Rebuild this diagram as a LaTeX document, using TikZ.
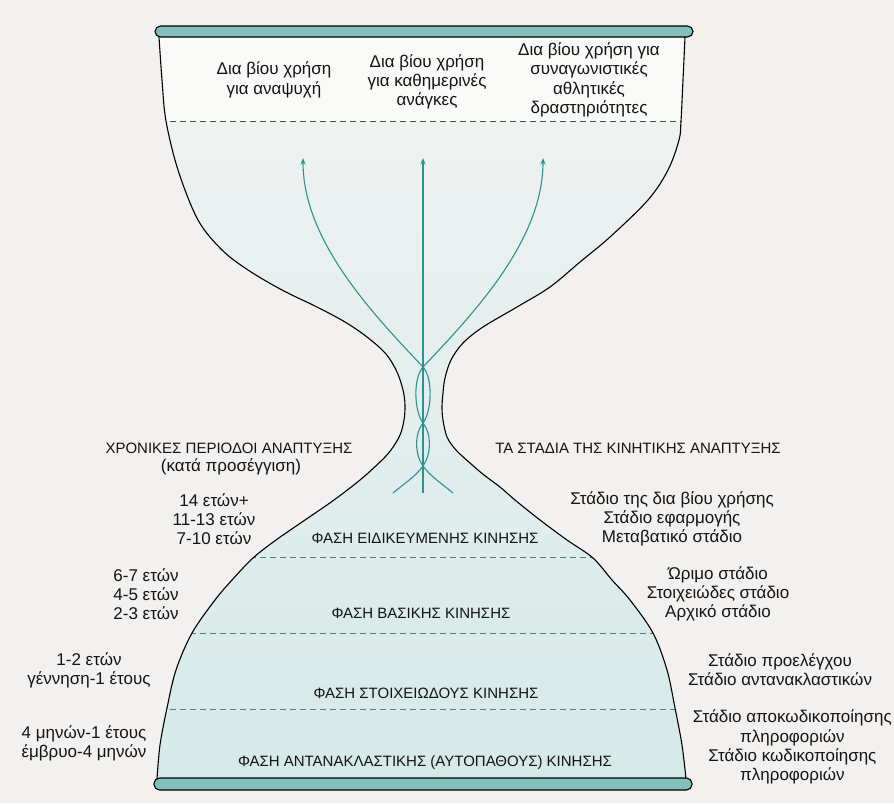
\documentclass[tikz,border=0pt]{standalone}
\usepackage{fontspec}
\setmainfont{Liberation Sans}
\usetikzlibrary{arrows.meta}
\definecolor{pagebg}{HTML}{F2F1EF}
\definecolor{ink}{HTML}{141414}
\definecolor{barteal}{HTML}{82C0BC}
\definecolor{arrowteal}{HTML}{2B9490}
\definecolor{dashteal}{HTML}{4E7F7D}
\definecolor{topwhite}{HTML}{F9F9F7}
\definecolor{bulbtop}{HTML}{EEF2F1}
\definecolor{bulbmid}{HTML}{E3EEED}
\definecolor{bulbbot}{HTML}{D4E9E8}
\begin{document}
\begin{tikzpicture}[x=1pt,y=-1pt,
  txt/.style={align=center, inner sep=0pt, text=ink, font=\fontsize{17}{19.3}\selectfont},
  caps/.style={align=center, inner sep=0pt, text=ink, font=\fontsize{15}{19}\selectfont},
  wall/.style={draw=black, line width=1.1pt},
  barbox/.style={draw=black, line width=1.1pt, fill=barteal, rounded corners=5.5pt, inner sep=0pt},
  topdash/.style={draw=gray!60!black, line width=0.8pt, dash pattern=on 6pt off 4pt},
  lowdash/.style={draw=dashteal, line width=0.8pt, dash pattern=on 6pt off 4pt},
  strand/.style={draw=arrowteal, line width=1.1pt},
  tip/.style={-{Stealth[length=6.5pt,width=5pt]}}
]
\useasboundingbox (0,0) rectangle (894,803);
\fill[pagebg] (0,0) rectangle (894,803);

% interior fill and dashed separators
\begin{scope}
\clip plot[smooth,tension=0.55] coordinates {(159,37) (162,80) (166,121) (178,170) (198,220) (222,250) (248,270) (282,290) (317,307) (345,322) (367,337) (386,354) (397,372) (403,390) (405,405) (404,420) (400,435) (391,450) (380,462) (360,480) (334,500) (305,520) (276,540) (253,558) (232,580) (215,600) (192,633) (176,670) (167,708) (160,745) (157,779)}
 -- plot[smooth,tension=0.55] coordinates {(686,779) (682,745) (675,708) (667,670) (653,633) (630,600) (612,580) (593,558) (567,540) (540,520) (515,500) (500,487) (484,475) (470,463) (456,450) (447,437) (443,420) (442,407) (443,393) (445,378) (451,360) (463,343) (483,327) (517,307) (550,287) (580,262) (610,237) (648,200) (668,170) (679,140) (681,121) (683,80) (685,37)} -- cycle;
\fill[topwhite] (0,20) rectangle (894,121);
\shade[top color=bulbtop, bottom color=bulbmid] (0,121) rectangle (894,420);
\shade[top color=bulbmid, bottom color=bulbbot] (0,420) rectangle (894,795);
\coordinate (d0l) at (100,121); \coordinate (d0r) at (800,121);
\coordinate (d1l) at (100,557); \coordinate (d1r) at (800,557);
\coordinate (d2l) at (100,633); \coordinate (d2r) at (800,633);
\coordinate (d3l) at (100,709); \coordinate (d3r) at (800,709);
\draw[topdash] (d0l) -- (d0r);
\draw[lowdash] (d1l) -- (d1r);
\draw[lowdash] (d2l) -- (d2r);
\draw[lowdash] (d3l) -- (d3r);
\end{scope}

% walls
\draw[wall] plot[smooth,tension=0.55] coordinates {(159,37) (162,80) (166,121) (178,170) (198,220) (222,250) (248,270) (282,290) (317,307) (345,322) (367,337) (386,354) (397,372) (403,390) (405,405) (404,420) (400,435) (391,450) (380,462) (360,480) (334,500) (305,520) (276,540) (253,558) (232,580) (215,600) (192,633) (176,670) (167,708) (160,745) (157,779)};
\draw[wall] plot[smooth,tension=0.55] coordinates {(686,779) (682,745) (675,708) (667,670) (653,633) (630,600) (612,580) (593,558) (567,540) (540,520) (515,500) (500,487) (484,475) (470,463) (456,450) (447,437) (443,420) (442,407) (443,393) (445,378) (451,360) (463,343) (483,327) (517,307) (550,287) (580,262) (610,237) (648,200) (668,170) (679,140) (681,121) (683,80) (685,37)};

% bars
\node[barbox, minimum width=538pt, minimum height=11pt] (topbar) at (424,31.5) {};
\node[barbox, minimum width=538pt, minimum height=12pt] (botbar) at (423,784) {};

% strands and arrows
\coordinate (sL) at (393,493); \coordinate (sC) at (423,493); \coordinate (sR) at (453,493);
\coordinate (x1) at (423,466); \coordinate (x2) at (423,423); \coordinate (x3) at (423,367);
\coordinate (tL) at (303,158); \coordinate (tC) at (423,158); \coordinate (tR) at (543,158);
\draw[strand,tip] (sL) .. controls (405,483) and (416,476) .. (x1)
  .. controls (431,455) and (432,434) .. (x2)
  .. controls (414,411) and (413,378) .. (x3)
  .. controls (475,312) and (543,240) .. (tR);
\draw[strand,tip] (sR) .. controls (441,483) and (430,476) .. (x1)
  .. controls (415,455) and (414,434) .. (x2)
  .. controls (432,411) and (433,378) .. (x3)
  .. controls (371,312) and (303,240) .. (tL);
\draw[strand,tip] (sC) -- (tC);

% top texts
\node[txt] (u1) at (274,80) {Δια βίου χρήση\\για αναψυχή};
\node[txt] (u2) at (427,82) {Δια βίου χρήση\\για καθημερινές\\ανάγκες};
\node[txt] (u3) at (589,80) {Δια βίου χρήση για\\συναγωνιστικές\\αθλητικές\\δραστηριότητες};

% headers
\node[caps] (hl) at (229,448) {ΧΡΟΝΙΚΕΣ ΠΕΡΙΟΔΟΙ ΑΝΑΠΤΥΞΗΣ};
\node[txt] (hl2) at (231,467) {(κατά προσέγγιση)};
\node[caps] (hr) at (638,448) {ΤΑ ΣΤΑΔΙΑ ΤΗΣ ΚΙΝΗΤΙΚΗΣ ΑΝΑΠΤΥΞΗΣ};

% ages
\node[txt] (a1) at (214,519) {14 ετών+\\11-13 ετών\\7-10 ετών};
\node[txt] (a2) at (146,594) {6-7 ετών\\4-5 ετών\\2-3 ετών};
\node[txt] (a3) at (89,670) {1-2 ετών\\γέννηση-1 έτους};
\node[txt] (a4) at (84,743) {4 μηνών-1 έτους\\έμβρυο-4 μηνών};

% phases
\node[caps] (p1) at (425,538) {ΦΑΣΗ ΕΙΔΙΚΕΥΜΕΝΗΣ ΚΙΝΗΣΗΣ};
\node[caps] (p2) at (421,613) {ΦΑΣΗ ΒΑΣΙΚΗΣ ΚΙΝΗΣΗΣ};
\node[caps] (p3) at (426,693) {ΦΑΣΗ ΣΤΟΙΧΕΙΩΔΟΥΣ ΚΙΝΗΣΗΣ};
\node[caps] (p4) at (425,763) {ΦΑΣΗ ΑΝΤΑΝΑΚΛΑΣΤΙΚΗΣ (ΑΥΤΟΠΑΘΟΥΣ) ΚΙΝΗΣΗΣ};

% stages
\node[txt] (s1) at (672,519) {Στάδιο της δια βίου χρήσης\\Στάδιο εφαρμογής\\Μεταβατικό στάδιο};
\node[txt] (s2) at (718,594) {Ώριμο στάδιο\\Στοιχειώδες στάδιο\\Αρχικό στάδιο};
\node[txt] (s3) at (780,670) {Στάδιο προελέγχου\\Στάδιο αντανακλαστικών};
\node[txt, anchor=east] (s4) at (892,747) {Στάδιο αποκωδικοποίησης\\πληροφοριών\\Στάδιο κωδικοποίησης\\πληροφοριών};
\end{tikzpicture}
\end{document}
